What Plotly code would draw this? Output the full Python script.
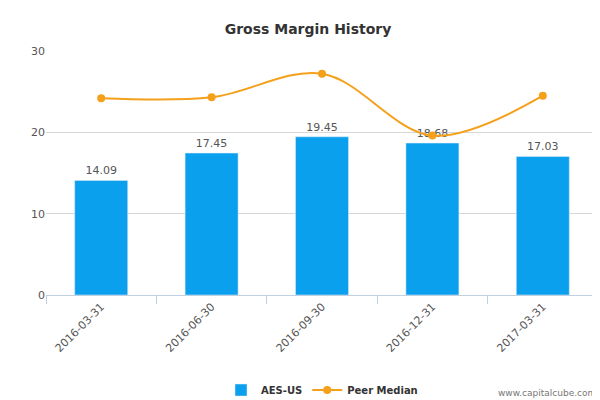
import plotly.graph_objects as go

categories = ["2016-03-31", "2016-06-30", "2016-09-30", "2016-12-31", "2017-03-31"]
aes_values = [14.09, 17.45, 19.45, 18.68, 17.03]
peer_median = [24.2, 24.3, 27.2, 19.6, 24.5]

fig = go.Figure()
fig.add_trace(go.Bar(x=categories, y=aes_values, name="<b>AES-US</b>", marker_color="#0AA0EE",
                     width=0.48, text=[f"{v:.2f}" for v in aes_values], textposition="outside",
                     textfont=dict(size=11, color="#555"), cliponaxis=False))
fig.add_trace(go.Scatter(x=categories, y=peer_median, name="<b>Peer Median</b>", mode="lines+markers",
                         line=dict(color="#F5A01A", width=2, shape="spline", smoothing=1.0),
                         marker=dict(size=8, color="#F5A01A")))
fig.update_layout(
    width=600, height=400, plot_bgcolor="white", paper_bgcolor="white",
    title=dict(text="<b>Gross Margin History</b>", x=0.5, y=0.96, font=dict(size=14, color="#333", family="DejaVu Sans")),
    font=dict(family="DejaVu Sans", size=11, color="#555"),
    margin=dict(l=38, r=10, t=43, b=113, autoexpand=False),
    legend=dict(orientation="h", x=0.5, xanchor="center", y=-0.33, yanchor="top",
                font=dict(size=10, color="#333")),
    xaxis=dict(type="category", tickangle=-45, showline=True, linecolor="#C0D0E0", ticks="outside",
               tickcolor="#C0D0E0", ticklen=8, tickson="boundaries", automargin=False),
    yaxis=dict(range=[0, 30], dtick=10, gridcolor="#D8D8D8", zeroline=False, showline=False, automargin=False),
    annotations=[dict(text="www.capitalcube.com", xref="paper", yref="paper", x=1.0, y=-0.43,
                      xanchor="right", showarrow=False, font=dict(size=9, color="#777"))],
)
fig.write_html("out.html")
